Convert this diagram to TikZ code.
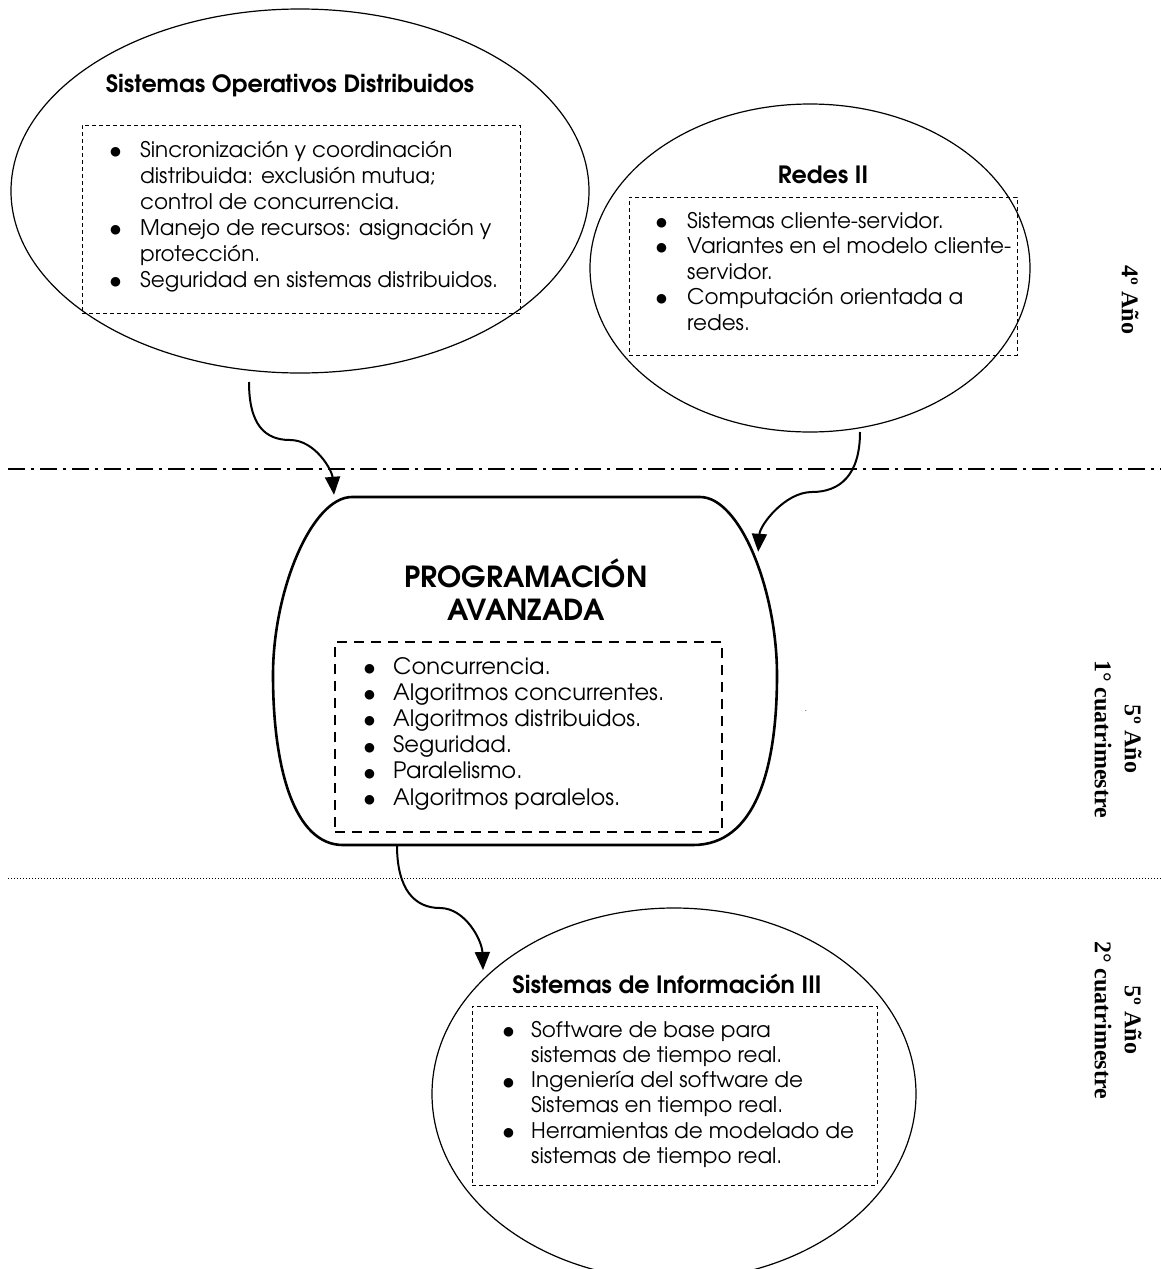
\documentclass[tikz,border=0pt]{standalone}
\usepackage{fontspec}
\setmainfont{texgyreadventor}[Extension=.otf, UprightFont=*-regular, BoldFont=*-bold, ItalicFont=*-italic, BoldItalicFont=*-bolditalic]
\newfontfamily\sidefont{Liberation Serif}
\newfontfamily\bulletfont{DejaVu Sans}
\usetikzlibrary{shapes.geometric,arrows.meta}

\newdimen\bhang
\newcommand\bdot{\raisebox{1.6pt}{\bulletfont\fontsize{12.5}{12.5}\selectfont ●}}
\newcommand\blist[3]{\vtop{\hsize=560pt\parindent=0pt\parskip=0pt\rightskip=0pt plus 1fil\baselineskip=#1\relax\bhang=#2\relax #3}}
\newcommand\bitem[1]{\par\hangindent=\bhang\hangafter=1\noindent\makebox[\bhang][l]{\bdot}#1\par}

\begin{document}
\begin{tikzpicture}[x=1pt,y=-1pt,
  course/.style={ellipse, draw, line width=1.2pt, inner sep=0pt, outer sep=0pt},
  thinbox/.style={draw, dash pattern=on 4pt off 3pt, line width=1pt, inner sep=0pt},
  thickbox/.style={draw, dash pattern=on 10pt off 7pt, line width=2.6pt, inner sep=0pt},
  link/.style={line width=2pt, -{Triangle[length=18pt,width=15pt]}},
  pashape/.style={line width=2.6pt, line join=round},
  title/.style={font=\bfseries\fontsize{23.8}{28}\selectfont, inner sep=0pt, anchor=base},
  bigtitle/.style={font=\bfseries\fontsize{29}{33}\selectfont, inner sep=0pt, anchor=base},
  listnode/.style={inner sep=0pt, anchor=base west, font=\fontsize{21.5}{26}\selectfont},
  biglistnode/.style={inner sep=0pt, anchor=base west, font=\fontsize{22.6}{26}\selectfont},
  side/.style={font=\sidefont\bfseries\fontsize{24}{30}\selectfont, rotate=-90, align=center, inner sep=0pt},
  sep dashdot/.style={line width=1.4pt, dash pattern=on 17pt off 6pt on 3pt off 6pt},
  sep dotted/.style={line width=1pt, dash pattern=on 1.2pt off 1.8pt}
]
\useasboundingbox (0,0) rectangle (1161,1269);
\fill[white] (0,0) rectangle (1161,1269);

% separators
\draw[sep dashdot] (8,469) -- (1161,469);
\draw[sep dotted] (8,878) -- (1161,878);

% course ellipses
\node[course, minimum width=578pt, minimum height=364pt] (sod) at (300,191) {};
\node[course, minimum width=440pt, minimum height=328pt] (redes) at (810,268) {};
\node[course, minimum width=484pt, minimum height=372pt] (si3) at (674,1094) {};

% central shape
\node[inner sep=0pt, minimum width=504pt, minimum height=348pt] (pa) at (525,671) {};
\draw[pashape] (352,497) -- (700,497)
  .. controls (740,497) and (777,590) .. (777,675)
  .. controls (777,770) and (755,845) .. (693,845)
  -- (343,845)
  .. controls (295,845) and (273,770) .. (273,675)
  .. controls (273,590) and (312,497) .. (352,497) -- cycle;

% dashed boxes
\node[thinbox, minimum width=438pt, minimum height=188pt] (sodbox) at (301,219) {};
\node[thinbox, minimum width=388pt, minimum height=158pt] (redesbox) at (823,276) {};
\node[thickbox, minimum width=387pt, minimum height=190pt] (pabox) at (528.5,737) {};
\node[thinbox, minimum width=405pt, minimum height=179pt] (si3box) at (674.5,1095.5) {};

% titles
\node[title] (sodt) at (290,92) {Sistemas Operativos Distribuidos};
\node[title] (redest) at (823,183) {Redes II};
\node[title] (si3t) at (667,993) {Sistemas de Información III};
\node[bigtitle] (pat1) at (526,587) {PROGRAMACIÓN};
\node[bigtitle] (pat2) at (526,620) {AVANZADA};

% lists
\node[listnode] (sodl) at (110,157) {\blist{26pt}{30pt}{%
  \bitem{Sincronización y coordinación\newline distribuida: exclusión mutua;\newline control de concurrencia.}%
  \bitem{Manejo de recursos: asignación y\newline protección.}%
  \bitem{Seguridad en sistemas distribuidos.}}};
\node[listnode] (redesl) at (656,228) {\blist{25.5pt}{31pt}{%
  \bitem{Sistemas cliente-servidor.}%
  \bitem{Variantes en el modelo cliente-\newline servidor.}%
  \bitem{Computación orientada a\newline redes.}}};
\node[biglistnode] (pal) at (364,674) {\blist{26.2pt}{29pt}{%
  \bitem{Concurrencia.}%
  \bitem{Algoritmos concurrentes.}%
  \bitem{Algoritmos distribuidos.}%
  \bitem{Seguridad.}%
  \bitem{Paralelismo.}%
  \bitem{Algoritmos paralelos.}}};
\node[listnode] (si3l) at (503,1037) {\blist{25.3pt}{28pt}{%
  \bitem{Software de base para\newline sistemas de tiempo real.}%
  \bitem{Ingeniería del software de\newline Sistemas en tiempo real.}%
  \bitem{Herramientas de modelado de\newline sistemas de tiempo real.}}};

% stray dot
\node[inner sep=0pt, font=\fontsize{8}{8}\selectfont] (stray) at (806,711) {.};

% side labels
\node[side] (y4) at (1130,300) {4º Año};
\node[side] (y5a) at (1118,739) {5º Año\\1° cuatrimestre};
\node[side] (y5b) at (1118,1020) {5º Año\\2° cuatrimestre};

% connectors
\draw[link] ([xshift=-51pt,yshift=-9pt]sod.south)
  .. controls (249,425) and (265,440) .. (290,440)
  .. controls (315,440) and (332,470) .. ([xshift=-191pt,yshift=2pt]pa.north);
\draw[link] ([xshift=50pt]redes.south)
  .. controls (860,475) and (840,492) .. (812,492)
  .. controls (785,492) and (760,525) .. ([xshift=-19pt,yshift=-55pt]pa.north east);
\draw[link] ([xshift=-128pt]pa.south)
  .. controls (397,890) and (415,908) .. (440,908)
  .. controls (465,908) and (482,940) .. ([xshift=-191pt,yshift=-62pt]si3.north);
\end{tikzpicture}
\end{document}
